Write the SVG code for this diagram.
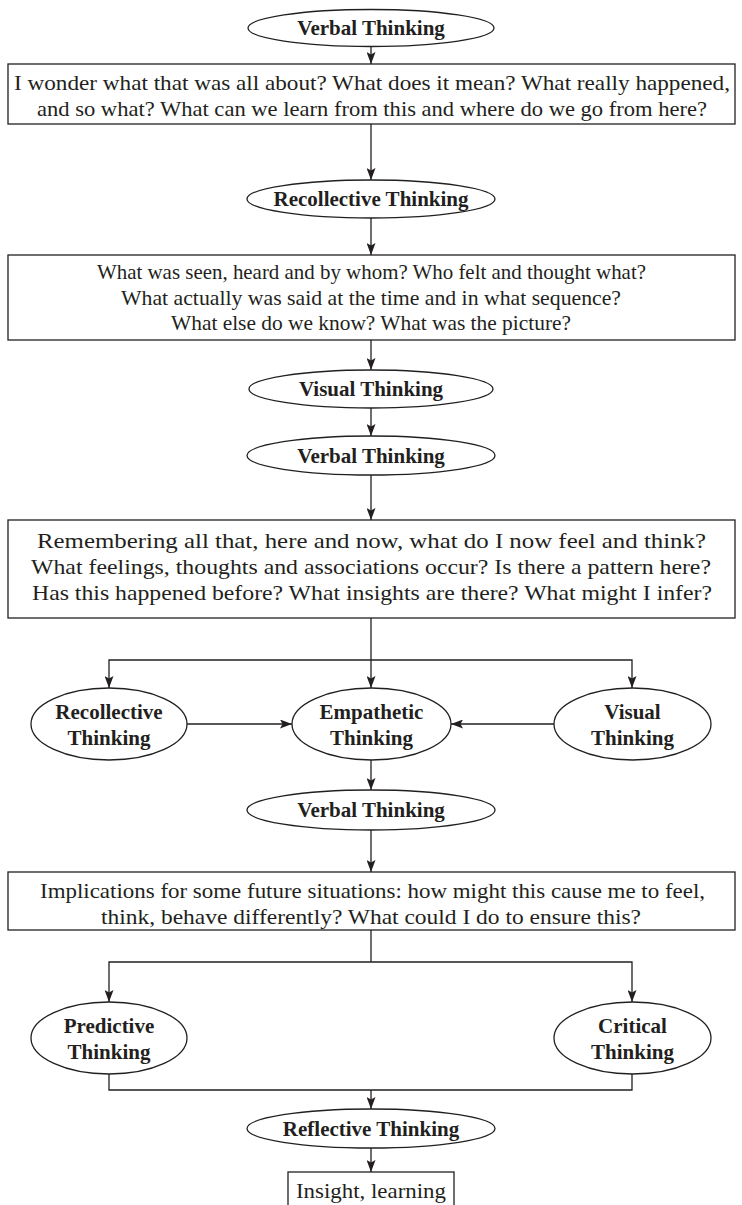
<svg xmlns="http://www.w3.org/2000/svg" width="742" height="1205" viewBox="0 0 742 1205">
  <style>
    .shape { fill: #ffffff; stroke: #231f20; stroke-width: 1.3; }
    .label { font-family: "Liberation Serif", "Times New Roman", serif; font-weight: bold; font-size: 21px; fill: #231f20; text-anchor: middle; }
    .body { font-family: "Liberation Serif", "Times New Roman", serif; font-size: 21.5px; fill: #231f20; text-anchor: middle; }
    .wire { fill: none; stroke: #231f20; stroke-width: 1.3; }
    .arrow { fill: none; stroke: #231f20; stroke-width: 1.3; marker-end: url(#head); }
  </style>
  <defs>
    <marker id="head" viewBox="0 0 12 9" refX="12" refY="4.5" markerWidth="12" markerHeight="9" markerUnits="userSpaceOnUse" orient="auto">
      <path d="M0,0 L12,4.5 L0,9 L2.5,4.5 z" fill="#231f20"/>
    </marker>
  </defs>

  <rect width="742" height="1205" fill="#ffffff"/>

  <!-- connectors -->
  <g id="connectors">
    <line class="arrow" x1="371" y1="46" x2="371" y2="64"/>
    <line class="arrow" x1="371" y1="124" x2="371" y2="180"/>
    <line class="arrow" x1="371" y1="218" x2="371" y2="255"/>
    <line class="arrow" x1="371" y1="340" x2="371" y2="370"/>
    <line class="arrow" x1="371" y1="408" x2="371" y2="436"/>
    <line class="arrow" x1="371" y1="475" x2="371" y2="520"/>
    <!-- fan-out to the three middle ellipses -->
    <line class="arrow" x1="371" y1="618" x2="371" y2="688"/>
    <polyline class="arrow" points="371,660 109,660 109,688"/>
    <polyline class="arrow" points="371,660 632,660 632,688"/>
    <line class="arrow" x1="187" y1="724" x2="292" y2="724"/>
    <line class="arrow" x1="554" y1="724" x2="451" y2="724"/>
    <line class="arrow" x1="371" y1="760" x2="371" y2="790"/>
    <line class="arrow" x1="371" y1="830" x2="371" y2="872"/>
    <!-- split to predictive / critical -->
    <line class="wire" x1="371" y1="930" x2="371" y2="962"/>
    <polyline class="arrow" points="371,962 109,962 109,1002"/>
    <polyline class="arrow" points="371,962 632,962 632,1002"/>
    <!-- merge into reflective -->
    <polyline class="wire" points="109,1074 109,1090 632,1090 632,1074"/>
    <line class="arrow" x1="371" y1="1090" x2="371" y2="1109"/>
    <line class="arrow" x1="371" y1="1148" x2="371" y2="1172"/>
  </g>

  <g id="verbal-1">
    <ellipse class="shape" cx="371" cy="28" rx="123" ry="18.5"/>
    <text class="label" x="371" y="35">Verbal Thinking</text>
  </g>

  <g id="questions-1">
    <rect class="shape" x="8" y="64" width="727" height="60"/>
    <text class="body" x="372" y="90" textLength="716" lengthAdjust="spacingAndGlyphs">I wonder what that was all about? What does it mean? What really happened,</text>
    <text class="body" x="372" y="115.5" textLength="670" lengthAdjust="spacingAndGlyphs">and so what?  What can we learn from this and where do we go from here?</text>
  </g>

  <g id="recollective-1">
    <ellipse class="shape" cx="371" cy="199" rx="124" ry="19"/>
    <text class="label" x="371" y="206">Recollective Thinking</text>
  </g>

  <g id="questions-2">
    <rect class="shape" x="8" y="255" width="727" height="85"/>
    <text class="body" x="371.5" y="279" textLength="549" lengthAdjust="spacingAndGlyphs">What was seen, heard and by whom? Who felt and thought what?</text>
    <text class="body" x="371" y="305" textLength="500" lengthAdjust="spacingAndGlyphs">What actually was said at the time and in what sequence?</text>
    <text class="body" x="371" y="330" textLength="400" lengthAdjust="spacingAndGlyphs">What else do we know? What was the picture?</text>
  </g>

  <g id="visual-1">
    <ellipse class="shape" cx="371" cy="389" rx="122" ry="19"/>
    <text class="label" x="371" y="396">Visual Thinking</text>
  </g>

  <g id="verbal-2">
    <ellipse class="shape" cx="371" cy="455.5" rx="124" ry="19.5"/>
    <text class="label" x="371" y="462.5">Verbal Thinking</text>
  </g>

  <g id="questions-3">
    <rect class="shape" x="8" y="520" width="727" height="98"/>
    <text class="body" x="371.5" y="548" textLength="669" lengthAdjust="spacingAndGlyphs">Remembering all that, here and now, what do I now feel and think?</text>
    <text class="body" x="371" y="574" textLength="680" lengthAdjust="spacingAndGlyphs">What feelings, thoughts and associations occur? Is there a pattern here?</text>
    <text class="body" x="372" y="600" textLength="680" lengthAdjust="spacingAndGlyphs">Has this happened before? What insights are there? What might I infer?</text>
  </g>

  <g id="recollective-2">
    <ellipse class="shape" cx="109" cy="724" rx="78" ry="36"/>
    <text class="label" x="109" y="719">Recollective</text>
    <text class="label" x="109" y="745">Thinking</text>
  </g>

  <g id="empathetic">
    <ellipse class="shape" cx="371.5" cy="724" rx="79.5" ry="36"/>
    <text class="label" x="371.5" y="719">Empathetic</text>
    <text class="label" x="371.5" y="745">Thinking</text>
  </g>

  <g id="visual-2">
    <ellipse class="shape" cx="632.5" cy="724" rx="78.5" ry="36"/>
    <text class="label" x="632.5" y="719">Visual</text>
    <text class="label" x="632.5" y="745">Thinking</text>
  </g>

  <g id="verbal-3">
    <ellipse class="shape" cx="371" cy="810" rx="124" ry="20"/>
    <text class="label" x="371" y="817">Verbal Thinking</text>
  </g>

  <g id="implications">
    <rect class="shape" x="8" y="872" width="727" height="58"/>
    <text class="body" x="372.5" y="898" textLength="665" lengthAdjust="spacingAndGlyphs">Implications for some future situations: how might this cause me to feel,</text>
    <text class="body" x="371" y="924" textLength="540" lengthAdjust="spacingAndGlyphs">think, behave differently? What could I do to ensure this?</text>
  </g>

  <g id="predictive">
    <ellipse class="shape" cx="109" cy="1038" rx="78" ry="36"/>
    <text class="label" x="109" y="1033">Predictive</text>
    <text class="label" x="109" y="1059">Thinking</text>
  </g>

  <g id="critical">
    <ellipse class="shape" cx="632.5" cy="1038" rx="78.5" ry="36"/>
    <text class="label" x="632.5" y="1033">Critical</text>
    <text class="label" x="632.5" y="1059">Thinking</text>
  </g>

  <g id="reflective">
    <ellipse class="shape" cx="371" cy="1128.5" rx="124" ry="19.5"/>
    <text class="label" x="371" y="1135.5">Reflective Thinking</text>
  </g>

  <g id="insight">
    <rect class="shape" x="288" y="1172" width="166" height="50"/>
    <text class="body" x="371" y="1198" textLength="150" lengthAdjust="spacingAndGlyphs">Insight, learning</text>
  </g>
</svg>
